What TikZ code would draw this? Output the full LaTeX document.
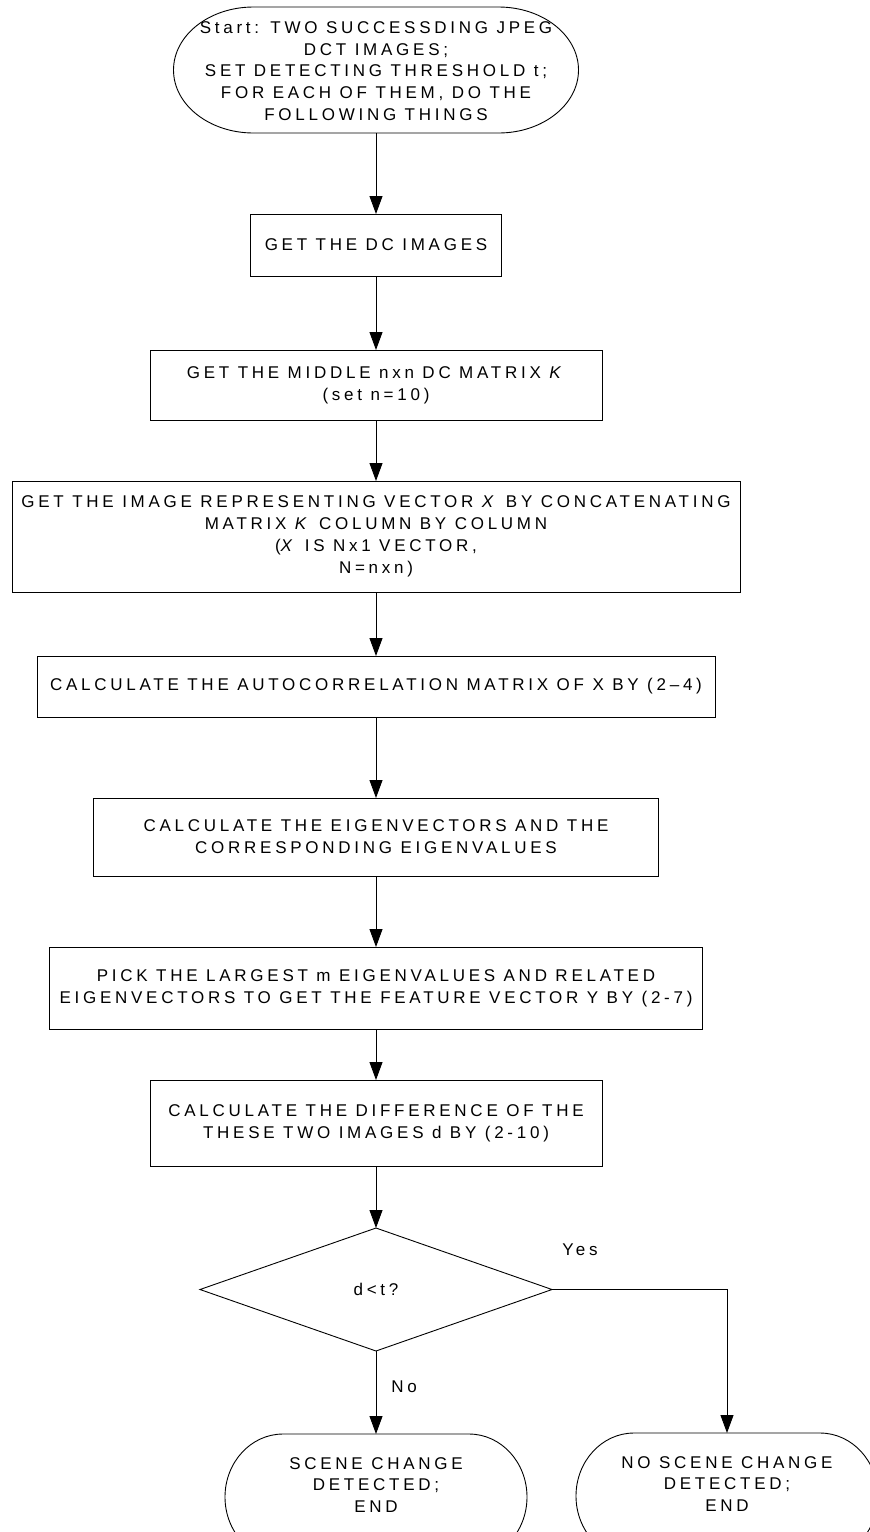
\documentclass[tikz,border=0pt]{standalone}
\usepackage{fontspec}
\setmainfont{Liberation Sans}[LetterSpace=22]
\usetikzlibrary{arrows.meta}

% outline of a terminal (stadium with elliptic ends) around a named node
\newcommand\terminalpath[2]{%
  \draw[outline] ([xshift=#2pt]#1.north west) -- ([xshift=-#2pt]#1.north east)
    arc[start angle=90,end angle=-90,x radius=#2pt,y radius=63pt]
    -- ([xshift=#2pt]#1.south west)
    arc[start angle=270,end angle=90,x radius=#2pt,y radius=63pt] -- cycle;}

\begin{document}
\begin{tikzpicture}[x=1pt,y=-1pt,
  every node/.style={font=\fontsize{17}{21.8}\selectfont, align=center,
    inner sep=1pt, outer sep=0pt},
  outline/.style={line width=0.9pt, draw=black},
  procbox/.style={outline, draw, rectangle},
  shapeholder/.style={rectangle, draw=none},
  arr/.style={line width=0.9pt, -{Triangle[length=18pt,width=13pt]}}]

\clip (0,0) rectangle (870,1532);

% start terminal
\node[shapeholder, minimum width=405pt, minimum height=126pt] (start) at (376,70) {};
\terminalpath{start}{80}
\node (starttext) at (376,71) {Start: TWO SUCCESSDING JPEG\\ DCT IMAGES;\\ SET DETECTING THRESHOLD t;\\ FOR EACH OF THEM, DO THE\\ FOLLOWING THINGS};

% process steps
\node[procbox, minimum width=251pt, minimum height=62pt] (dc) at (376,245) {GET THE DC IMAGES};
\node[procbox, minimum width=452pt, minimum height=70pt] (mid) at (376,385)
  {GET THE MIDDLE nxn DC MATRIX \textit{K}\\ (set n=10)};
\node[procbox, minimum width=728pt, minimum height=111pt] (vec) at (376,536.5)
  {GET THE IMAGE REPRESENTING VECTOR \textit{X} BY CONCATENATING\\ MATRIX \textit{K} COLUMN BY COLUMN\\ (\textit{X} IS Nx1 VECTOR,\\ N=nxn)};
\node[procbox, minimum width=678pt, minimum height=61pt] (auto) at (376,686.5)
  {CALCULATE THE AUTOCORRELATION MATRIX OF X BY (2–4)};
\node[procbox, minimum width=565pt, minimum height=78pt] (eig) at (376,837)
  {CALCULATE THE EIGENVECTORS AND THE\\ CORRESPONDING EIGENVALUES};
\node[procbox, minimum width=653pt, minimum height=82pt] (pick) at (376,988)
  {PICK THE LARGEST m EIGENVALUES AND RELATED\\ EIGENVECTORS TO GET THE FEATURE VECTOR Y BY (2-7)};
\node[procbox, minimum width=452pt, minimum height=86pt] (diff) at (376,1123)
  {CALCULATE THE DIFFERENCE OF THE\\ THESE TWO IMAGES d BY (2-10)};

% decision
\node[shapeholder, minimum width=352pt, minimum height=123pt] (dec) at (376,1289.5) {};
\draw[outline] (dec.north) -- (dec.east) -- (dec.south) -- (dec.west) -- cycle;
\node (dectext) at (376,1289) {d<t?};

% end terminals
\node[shapeholder, minimum width=302pt, minimum height=126pt] (endL) at (376,1497) {};
\terminalpath{endL}{58}
\node (endLtext) at (376,1485) {SCENE CHANGE\\ DETECTED;\\ END};
\node[shapeholder, minimum width=302pt, minimum height=126pt] (endR) at (727,1496) {};
\terminalpath{endR}{58}
\node (endRtext) at (727,1484) {NO SCENE CHANGE\\ DETECTED;\\ END};

% connectors
\draw[arr] (start.south) -- (dc.north);
\draw[arr] (dc.south) -- (mid.north);
\draw[arr] (mid.south) -- (vec.north);
\draw[arr] (vec.south) -- (auto.north);
\draw[arr] (auto.south) -- (eig.north);
\draw[arr] (eig.south) -- (pick.north);
\draw[arr] (pick.south) -- (diff.north);
\draw[arr] (diff.south) -- (dec.north);
\draw[arr] (dec.south) -- (endL.north);
\draw[arr] (dec.east) -| (endR.north);

% branch labels
\node (yes) at (580,1250) {Yes};
\node (no) at (404,1387) {No};
\end{tikzpicture}
\end{document}
